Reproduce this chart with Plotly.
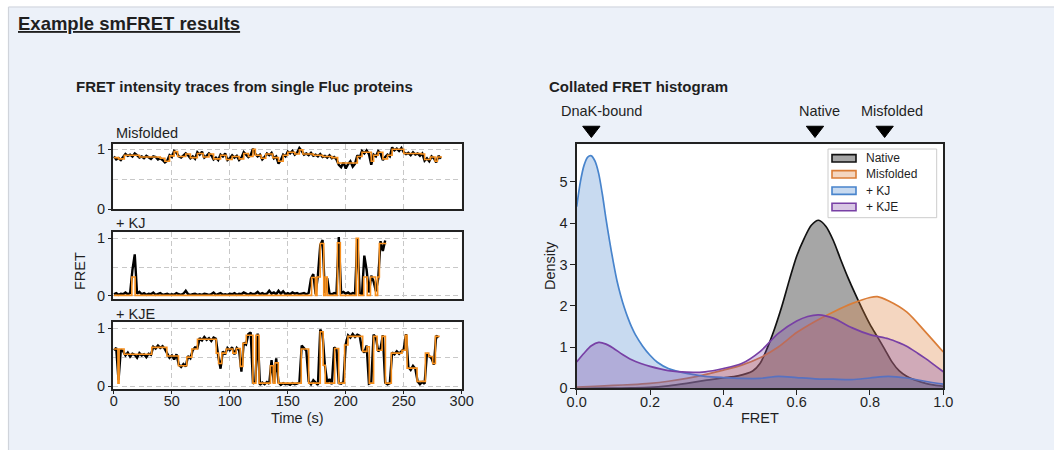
import plotly.graph_objects as go

W, H = 1054, 450

# ---------------- data ----------------
FRAME_S = 2.0  # seconds between raw FRET samples

# raw FRET (black) traces
mis_raw = [0.88,0.83,0.85,0.82,0.87,0.92,0.89,0.91,0.88,0.93,
           0.90,0.86,0.88,0.85,0.89,0.86,0.84,0.88,0.87,0.83,
           0.85,0.82,0.78,0.81,0.90,0.87,0.97,0.94,0.88,0.86,
           0.90,0.93,0.90,0.85,0.88,0.84,0.95,0.91,0.96,0.86,
           0.89,0.93,0.90,0.83,0.86,0.82,0.91,0.88,0.93,0.82,
           0.85,0.90,0.86,0.89,0.82,0.86,0.95,0.91,0.87,0.90,
           1.01,0.92,0.88,0.91,0.83,0.87,0.93,0.90,0.94,0.85,
           0.88,0.76,0.82,0.91,0.88,0.96,0.93,0.97,0.91,0.94,
           1.02,0.97,0.91,0.93,0.90,0.94,0.89,0.91,0.88,0.92,
           0.87,0.89,0.86,0.90,0.85,0.87,0.83,0.74,0.70,0.78,
           0.68,0.75,0.80,0.71,0.76,0.90,0.86,0.97,0.93,0.98,
           0.92,0.74,0.91,0.88,0.97,0.93,0.82,0.87,0.91,0.88,
           1.03,0.98,1.01,0.97,1.02,0.95,0.92,0.94,0.90,0.95,
           0.91,0.93,0.89,0.93,0.81,0.85,0.80,0.88,0.85,0.78,
           0.89,0.84]

kj_raw = [0.03,0.05,0.02,0.04,0.03,0.06,0.03,0.05,0.45,0.72,
          0.04,0.07,0.03,0.05,0.02,0.04,0.03,0.06,0.02,0.03,
          0.05,0.02,0.03,0.04,0.02,0.03,0.02,0.05,0.03,0.02,
          0.04,0.09,0.03,0.02,0.03,0.04,0.02,0.03,0.02,0.04,
          0.03,0.02,0.03,0.06,0.02,0.03,0.05,0.02,0.03,0.02,
          0.04,0.03,0.05,0.02,0.04,0.03,0.06,0.04,0.02,0.05,
          0.03,0.04,0.07,0.03,0.05,0.03,0.04,0.09,0.04,0.06,
          0.03,0.09,0.04,0.08,0.03,0.05,0.03,0.06,0.04,0.05,
          0.03,0.04,0.05,0.03,0.05,0.30,0.38,0.03,0.36,0.88,
          0.97,0.05,0.31,0.04,0.03,0.05,0.04,1.02,0.05,0.07,
          0.04,0.06,0.03,0.05,0.04,1.00,0.05,0.03,0.70,0.45,
          0.06,0.35,0.25,0.08,0.30,0.95,0.78,0.96]

kje_raw = [0.62,0.66,0.10,0.63,0.60,0.53,0.58,0.51,0.56,0.54,
           0.49,0.57,0.53,0.55,0.50,0.56,0.54,0.68,0.65,0.70,
           0.66,0.69,0.64,0.55,0.49,0.53,0.46,0.55,0.37,0.33,
           0.38,0.34,0.52,0.48,0.62,0.67,0.66,0.83,0.79,0.85,
           0.80,0.83,0.78,0.84,0.82,0.52,0.30,0.60,0.55,0.66,
           0.62,0.67,0.55,0.66,0.62,0.25,0.75,0.72,0.90,0.93,
           0.04,0.08,0.91,0.02,0.06,0.03,0.07,0.04,0.45,0.05,
           0.48,0.06,0.02,0.05,0.03,0.04,0.02,0.05,0.03,0.04,
           0.06,0.70,0.66,0.61,0.08,0.03,0.10,0.05,0.02,0.98,
           0.90,0.36,0.06,0.12,0.03,0.67,0.63,0.05,0.04,0.07,
           0.73,0.88,0.84,0.90,0.85,0.89,0.87,0.63,0.58,0.70,
           0.04,0.06,0.89,0.84,0.60,0.65,0.88,0.06,0.03,0.05,
           0.58,0.55,0.60,0.56,0.61,0.64,0.90,0.33,0.28,0.35,
           0.30,0.08,0.03,0.07,0.04,0.56,0.52,0.48,0.37,0.87,
           0.84]

# idealised (orange) step traces: change times (s) and levels
mis_step_t = [0,4,9,22,40,44,48,52,55,62,66,72,77,82,86,92,97,102,108,112,116,120,122,127,131,
              137,142,146,150,156,160,163,172,180,188,193,210,214,222,224,228,232,236,240,250,
              265,268,273,277,279]
mis_step_v = [0.86,0.84,0.90,0.87,0.85,0.80,0.89,0.96,0.88,0.92,0.86,0.93,0.87,0.92,0.84,0.90,
              0.83,0.88,0.84,0.93,0.88,1.00,0.90,0.85,0.92,0.86,0.80,0.90,0.95,0.92,0.99,0.92,
              0.90,0.88,0.86,0.77,0.88,0.95,0.80,0.90,0.95,0.84,0.90,1.00,0.93,0.92,0.83,0.87,
              0.80,0.87]
mis_end = 283

kj_step_t = [0,15.5,18.3,170.5,173.8,175.2,178,181,182.5,184,192.8,195.3,209,211,215.5,218.5,
             221.3,225.6,227.5,229]
kj_step_v = [0.01,0.33,0.01,0.32,0.01,0.33,0.91,0.01,0.33,0.01,0.92,0.01,1.0,0.01,0.33,0.01,
             0.33,0.01,0.33,0.91]
kj_end = 235

kje_step_t = [0,3.5,4.5,8.8,32.7,45.7,55.7,62.9,67.2,72.1,88.3,90.3,93.1,96.9,102.6,105.5,109,
              111.3,114.2,119.9,122.5,125.2,135,137.5,139,141.8,161.6,168,178,180.5,182.3,190.4,
              193.9,199,201.9,214.6,218.3,220.3,224,227,231.3,234.2,239.3,248.5,251.4,252.9,
              261.5,268.7,271.6,275,277.3]
kje_step_v = [0.64,0.05,0.64,0.55,0.67,0.52,0.35,0.50,0.64,0.81,0.57,0.39,0.57,0.64,0.57,0.65,
              0.34,0.74,0.88,0.05,0.88,0.05,0.35,0.05,0.40,0.05,0.64,0.05,0.94,0.36,0.05,0.65,
              0.05,0.71,0.86,0.60,0.68,0.05,0.86,0.62,0.86,0.05,0.57,0.62,0.88,0.31,0.08,0.57,
              0.51,0.39,0.86]
kje_end = 281

time_ticks = [0, 50, 100, 150, 200, 250, 300]

# collated FRET histogram (KDE densities)
nat_x = [0.0,0.1,0.15,0.2,0.25,0.3,0.35,0.4,0.44,0.48,0.5,0.52,0.54,0.56,0.58,0.6,0.62,0.64,
         0.66,0.68,0.7,0.72,0.74,0.76,0.78,0.8,0.82,0.84,0.86,0.88,0.9,0.92,0.94,0.96,0.98,1.0]
nat_y = [0.0,0.005,0.01,0.02,0.06,0.12,0.19,0.25,0.30,0.42,0.60,0.98,1.45,2.0,2.62,3.2,3.62,
         3.95,4.07,3.92,3.58,3.12,2.68,2.28,1.9,1.55,1.25,0.95,0.64,0.42,0.29,0.21,0.15,0.10,
         0.07,0.05]

mis_x = [0,0.05,0.1,0.15,0.2,0.25,0.3,0.35,0.4,0.45,0.5,0.55,0.6,0.65,0.7,0.75,0.8,0.82,0.85,
         0.9,0.95,1.0]
mis_y = [0.03,0.05,0.07,0.09,0.12,0.17,0.24,0.33,0.44,0.56,0.74,1.0,1.35,1.62,1.85,2.05,2.2,
         2.22,2.12,1.85,1.38,0.88]

kj_x = [0,0.01,0.02,0.03,0.04,0.05,0.06,0.07,0.08,0.09,0.1,0.11,0.12,0.13,0.14,0.15,0.16,0.18,
        0.2,0.22,0.25,0.3,0.35,0.4,0.45,0.5,0.55,0.6,0.65,0.7,0.75,0.8,0.85,0.9,0.95,1.0]
kj_y = [4.4,5.0,5.4,5.6,5.63,5.5,5.2,4.7,4.1,3.55,3.05,2.6,2.25,1.95,1.7,1.48,1.3,1.02,0.8,
        0.63,0.48,0.36,0.29,0.26,0.24,0.24,0.29,0.26,0.23,0.22,0.21,0.25,0.29,0.25,0.17,0.10]

kje_x = [0,0.02,0.04,0.06,0.08,0.1,0.125,0.15,0.175,0.2,0.25,0.3,0.35,0.4,0.45,0.5,0.55,0.6,
         0.63,0.66,0.7,0.75,0.8,0.85,0.88,0.9,0.93,0.95,1.0]
kje_y = [0.64,0.85,1.03,1.11,1.07,0.97,0.82,0.69,0.6,0.53,0.43,0.39,0.4,0.48,0.6,0.89,1.33,
         1.63,1.74,1.78,1.7,1.47,1.3,1.2,1.1,1.02,0.85,0.73,0.4]

series_names = ["Native", "Misfolded", "+ KJ", "+ KJE"]
series_line = ["#111111", "rgb(218,125,55)", "rgb(72,132,204)", "rgb(120,64,165)"]
series_fill = ["rgba(128,128,128,0.7)", "rgba(221,128,58,0.32)",
               "rgba(74,133,204,0.3)", "rgba(125,70,165,0.3)"]

state_labels = ["DnaK-bound", "Native", "Misfolded"]
state_fret = [0.04, 0.65, 0.84]
state_label_shift = [10, 5, 7]

fret_ticks = [0.0, 0.2, 0.4, 0.6, 0.8, 1.0]
density_ticks = [0, 1, 2, 3, 4, 5]

# ---------------- helpers ----------------
def fx(p):
    return p / W


def fy(p):
    return 1 - p / H


FONT = "Liberation Sans, Arial, sans-serif"
TXT = "#1f1f1f"
AX = "#222222"
GRID = "#c8c8c8"
ORANGE = "#f7901e"
PAGE = "#ECF1F9"

fig = go.Figure()

# ---------------- trace panels ----------------
panels = [("Misfolded", mis_raw, mis_step_t, mis_step_v, mis_end),
          ("+ KJ", kj_raw, kj_step_t, kj_step_v, kj_end),
          ("+ KJE", kje_raw, kje_step_t, kje_step_v, kje_end)]
for i, (name, raw, st, sv, end) in enumerate(panels, start=1):
    xa = "x" if i == 1 else f"x{i}"
    ya = "y" if i == 1 else f"y{i}"
    t = [k * FRAME_S for k in range(len(raw))]
    fig.add_trace(go.Scatter(x=t, y=raw, mode="lines",
                             line=dict(color="black", width=2.4),
                             xaxis=xa, yaxis=ya, showlegend=False, hoverinfo="skip"))
    fig.add_trace(go.Scatter(x=list(st) + [end], y=list(sv) + [sv[-1]], mode="lines",
                             line=dict(color=ORANGE, width=1.6, shape="hv"),
                             xaxis=xa, yaxis=ya, showlegend=False, hoverinfo="skip"))

# ---------------- histogram ----------------
kdes = [(nat_x, nat_y), (mis_x, mis_y), (kj_x, kj_y), (kje_x, kje_y)]
for (kx, ky), nm, lc, fc in zip(kdes, series_names, series_line, series_fill):
    fig.add_trace(go.Scatter(x=kx, y=ky, mode="lines", name=nm,
                             line=dict(color=lc, width=1.7, shape="spline", smoothing=0.8),
                             fill="tozeroy", fillcolor=fc,
                             xaxis="x4", yaxis="y4", showlegend=False, hoverinfo="skip"))

# state markers (own invisible strip axis above the histogram, sharing the FRET axis)
fig.add_trace(go.Scatter(x=state_fret, y=[0] * len(state_fret), mode="markers",
                         marker=dict(symbol="triangle-down", size=15, color="black",
                                     line=dict(color="black", width=1)),
                         xaxis="x4", yaxis="y5", showlegend=False, hoverinfo="skip"))

# ---------------- axes ----------------
tick_font = dict(family=FONT, size=14.5, color=TXT)
xdom = [fx(113.3), fx(461.7)]
ydoms = [[fy(209.3), fy(144.0)], [fy(299.3), fy(232.3)], [fy(389.0), fy(322.3)]]
yranges = [[0.0, 1.087], [-0.058, 1.104], [-0.052, 1.104]]

layout_axes = {}
for i in range(1, 4):
    xk = "xaxis" if i == 1 else f"xaxis{i}"
    yk = "yaxis" if i == 1 else f"yaxis{i}"
    ya = "y" if i == 1 else f"y{i}"
    xa = "x" if i == 1 else f"x{i}"
    bottom = (i == 3)
    layout_axes[xk] = dict(domain=xdom, anchor=ya, range=[-0.5, 300], tickvals=time_ticks,
                           showgrid=True, gridcolor=GRID, gridwidth=1.1, griddash="5px,3.5px",
                           zeroline=False, showline=True, mirror=True, linecolor=AX, linewidth=1.6,
                           showticklabels=bottom, ticks="outside" if bottom else "",
                           ticklen=3.5, tickwidth=1.2, tickcolor=AX, tickfont=tick_font,
                           ticklabelstandoff=-6, automargin=False)
    layout_axes[yk] = dict(domain=ydoms[i - 1], anchor=xa, range=yranges[i - 1],
                           tickvals=[0, 1], ticktext=["0", "1"],
                           showgrid=True, gridcolor=GRID, gridwidth=1.1, griddash="5px,3.5px",
                           minor=dict(tickvals=[0.5], showgrid=True, gridcolor=GRID,
                                      gridwidth=1.1, griddash="5px,3.5px", ticks=""),
                           zeroline=False, showline=True, mirror=True, linecolor=AX, linewidth=1.6,
                           ticks="outside", ticklen=3.5, tickwidth=1.2, tickcolor=AX,
                           tickfont=tick_font, automargin=False)

layout_axes["xaxis4"] = dict(domain=[fx(576.7), fx(943.3)], anchor="y4", range=[0, 1],
                             tickvals=fret_ticks, tickformat=".1f", showgrid=False, zeroline=False,
                             showline=True, mirror=True, linecolor=AX, linewidth=1.6,
                             ticks="outside", ticklen=4.5, tickwidth=1.3, tickcolor=AX,
                             tickfont=tick_font, ticklabelstandoff=-5, automargin=False)
layout_axes["yaxis4"] = dict(domain=[fy(388.3), fy(144.3)], anchor="x4", range=[0, 5.91],
                             tickvals=density_ticks, showgrid=False, zeroline=False,
                             showline=True, mirror=True, linecolor=AX, linewidth=1.6,
                             ticks="outside", ticklen=4.5, tickwidth=1.3, tickcolor=AX,
                             tickfont=tick_font, automargin=False)
layout_axes["yaxis5"] = dict(domain=[fy(140), fy(120)], anchor="x4", range=[-1, 1],
                             visible=False, fixedrange=True, automargin=False)

# ---------------- annotations ----------------
ann = []


def text(x, y, s, size=14.5, xanchor="left", bold=False, angle=0, **kw):
    ann.append(dict(x=x, y=y, xref=kw.pop("xref", "paper"), yref=kw.pop("yref", "paper"),
                    text=f"<b>{s}</b>" if bold else s, showarrow=False,
                    xanchor=xanchor, yanchor="middle", textangle=angle,
                    font=dict(family=FONT, size=size, color=kw.pop("color", TXT)), **kw))


text(fx(16), fy(23), "<u><b>Example smFRET results</b></u>", size=18.5)
text(fx(74), fy(86), "FRET intensity traces from single Fluc proteins", size=15, bold=True)
text(fx(547), fy(86), "Collated FRET histogram", size=15, bold=True)

for (name, *_), yc in zip(panels, [133, 223.5, 314]):
    text(fx(113.5), fy(yc), name)

text(fx(80), fy(271), "FRET", xanchor="center", angle=-90)
text(fx(297), fy(418), "Time (s)", xanchor="center")
text(fx(550), fy(266), "Density", xanchor="center", angle=-90)
text(fx(760), fy(418), "FRET", xanchor="center")

for lab, xv, sh in zip(state_labels, state_fret, state_label_shift):
    text(xv, fy(111), lab, xanchor="center", xref="x4", xshift=sh)

# ---------------- shapes ----------------
shapes = [
    # page frame (white strips + thin border)
    dict(type="rect", xref="paper", yref="paper", x0=0, x1=1, y0=fy(6.5), y1=1,
         fillcolor="white", line=dict(width=0), layer="below"),
    dict(type="rect", xref="paper", yref="paper", x0=0, x1=fx(8.5), y0=0, y1=1,
         fillcolor="white", line=dict(width=0), layer="below"),
    dict(type="line", xref="paper", yref="paper", x0=fx(8.5), x1=1, y0=fy(7), y1=fy(7),
         line=dict(color="#d0d4db", width=1.2), layer="below"),
    dict(type="line", xref="paper", yref="paper", x0=fx(8.5), x1=fx(8.5), y0=0, y1=fy(7),
         line=dict(color="#d0d4db", width=1.2), layer="below"),
]
# white plotting areas for the four real subplots
for xa, ya in [("x", "y"), ("x2", "y2"), ("x3", "y3"), ("x4", "y4")]:
    shapes.append(dict(type="rect", xref=f"{xa} domain", yref=f"{ya} domain",
                       x0=0, x1=1, y0=0, y1=1, fillcolor="white",
                       line=dict(width=0), layer="below"))

# manual legend
leg_rows = [158.3, 174.3, 190.7, 207.0]
shapes.append(dict(type="rect", xref="paper", yref="paper", x0=fx(828), x1=fx(936.7),
                   y0=fy(217.7), y1=fy(149), fillcolor="rgba(255,255,255,0.85)",
                   line=dict(color="#cccccc", width=1)))
for nm, lc, fc, yc in zip(series_names, series_line, series_fill, leg_rows):
    shapes.append(dict(type="rect", xref="paper", yref="paper", x0=fx(832), x1=fx(856),
                       y0=fy(yc + 3.7), y1=fy(yc - 3.7), fillcolor=fc,
                       line=dict(color=lc, width=1.6)))
    text(fx(864), fy(yc), nm, size=12)

fig.update_layout(
    width=W, height=H, autosize=False,
    margin=dict(l=0, r=0, t=0, b=0, pad=0, autoexpand=False),
    paper_bgcolor=PAGE, plot_bgcolor=PAGE,
    font=dict(family=FONT, size=14.5, color=TXT),
    showlegend=False,
    annotations=ann, shapes=shapes,
    **layout_axes,
)

fig.write_html(
    "out.html",
    config={"displayModeBar": False},
    post_script=("document.documentElement.style.margin='0';"
                 "document.body.style.margin='0';document.body.style.padding='0';"
                 "document.documentElement.style.overflow='hidden';"
                 "document.body.style.overflow='hidden';"),
)
